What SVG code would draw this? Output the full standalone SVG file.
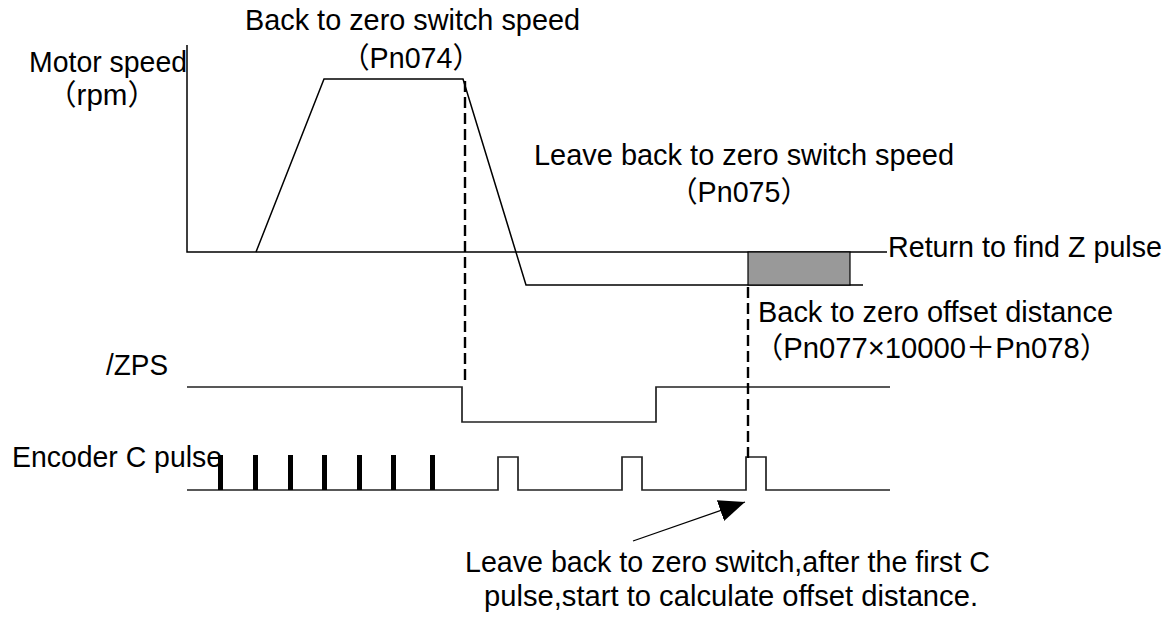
<svg xmlns="http://www.w3.org/2000/svg" width="1174" height="617" viewBox="0 0 1174 617">
  <style>
    .t { font-family: "Liberation Sans", "Noto Sans CJK SC", Arial, sans-serif; font-size: 29px; fill: #000; }
    .ln { fill: none; stroke: #000; stroke-width: 1.5; }
    .sig { fill: none; stroke: #222; stroke-width: 1.7; }
    .dash { fill: none; stroke: #000; stroke-width: 2.4; stroke-dasharray: 11 5; }
    .bar { fill: #000; }
  </style>
  <defs>
    <marker id="arrowHead" markerUnits="userSpaceOnUse" markerWidth="28" markerHeight="24" refX="26" refY="11" orient="auto">
      <polygon points="0,0 26,11 0,22" fill="#000"/>
    </marker>
  </defs>
  <rect x="0" y="0" width="1174" height="617" fill="#fff"/>

  <g id="speed-chart">
    <path class="ln" d="M187,45 V252 H887"/>
    <path class="ln" d="M256,252 L324,79 H463 L526,285 H863"/>
    <rect x="748" y="252" width="102" height="33" fill="#999" stroke="#000" stroke-width="1.2"/>
  </g>

  <g id="zps-signal">
    <path class="sig" d="M187,387 H462 V422 H656 V387 H890"/>
  </g>

  <g id="encoder-signal">
    <path class="sig" d="M187,490 H498 V457 H518 V490 H622 V457 H642 V490 H746 V457 H766 V490 H890"/>
    <rect class="bar" x="218" y="455" width="5" height="35"/>
    <rect class="bar" x="253" y="455" width="5" height="35"/>
    <rect class="bar" x="288" y="455" width="5" height="35"/>
    <rect class="bar" x="322" y="455" width="5" height="35"/>
    <rect class="bar" x="357" y="455" width="5" height="35"/>
    <rect class="bar" x="391" y="455" width="5" height="35"/>
    <rect class="bar" x="430" y="455" width="5" height="35"/>
  </g>

  <g id="connectors">
    <line class="dash" x1="465" y1="81" x2="465" y2="382"/>
    <line class="dash" x1="748" y1="287" x2="748" y2="462"/>
    <line x1="633" y1="541" x2="745" y2="502" stroke="#000" stroke-width="1.3" marker-end="url(#arrowHead)"/>
  </g>

  <g id="labels">
    <text class="t" x="245" y="30" textLength="335" lengthAdjust="spacingAndGlyphs">Back to zero switch speed</text>
    <text class="t" x="341" y="68" textLength="140" lengthAdjust="spacingAndGlyphs">（Pn074）</text>
    <text class="t" x="29" y="72" textLength="158" lengthAdjust="spacingAndGlyphs">Motor speed</text>
    <text class="t" x="47" y="105" textLength="110" lengthAdjust="spacingAndGlyphs">（rpm）</text>
    <text class="t" x="534" y="165" textLength="420" lengthAdjust="spacingAndGlyphs">Leave back to zero switch speed</text>
    <text class="t" x="669" y="202" textLength="140" lengthAdjust="spacingAndGlyphs">（Pn075）</text>
    <text class="t" x="888" y="257" textLength="274" lengthAdjust="spacingAndGlyphs">Return to find Z pulse</text>
    <text class="t" x="758" y="322" textLength="355" lengthAdjust="spacingAndGlyphs">Back to zero offset distance</text>
    <text class="t" x="754" y="358" textLength="355" lengthAdjust="spacingAndGlyphs">（Pn077×10000＋Pn078）</text>
    <text class="t" x="106" y="375" textLength="62" lengthAdjust="spacingAndGlyphs">/ZPS</text>
    <text class="t" x="12" y="467" textLength="210" lengthAdjust="spacingAndGlyphs">Encoder C pulse</text>
    <text class="t" x="465" y="572" textLength="525" lengthAdjust="spacingAndGlyphs">Leave back to zero switch,after the first C</text>
    <text class="t" x="484" y="606" textLength="494" lengthAdjust="spacingAndGlyphs">pulse,start to calculate offset distance.</text>
  </g>
</svg>
